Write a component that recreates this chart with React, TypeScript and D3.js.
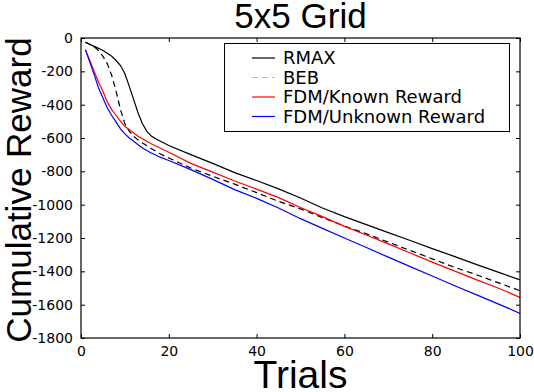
import { useEffect, useRef } from 'react';
import * as d3 from 'd3';

const trials = [1, 2, 3, 4, 5, 6, 7, 8, 9, 10, 11, 12, 13, 14, 15, 16, 17, 18, 20, 25, 30, 35, 40, 45, 50, 55, 60, 65, 70, 75, 80, 85, 90, 95, 100];

const rmax = [-25, -38, -50, -62, -75, -92, -110, -135, -165, -215, -290, -370, -450, -515, -560, -588, -605, -618, -645, -700, -752, -808, -855, -905, -960, -1020, -1072, -1120, -1168, -1215, -1264, -1310, -1358, -1405, -1452];
const beb = [-25, -38, -52, -75, -110, -155, -225, -320, -430, -515, -560, -590, -612, -630, -647, -663, -678, -695, -720, -780, -830, -877, -928, -980, -1025, -1078, -1128, -1175, -1225, -1275, -1325, -1375, -1420, -1468, -1516];
const fdmKnown = [-70, -135, -200, -265, -320, -385, -430, -465, -500, -530, -550, -570, -590, -605, -620, -635, -648, -660, -685, -752, -805, -858, -907, -958, -1017, -1072, -1130, -1182, -1235, -1290, -1345, -1397, -1450, -1500, -1556];
const fdmUnknown = [-70, -145, -220, -300, -360, -420, -465, -505, -545, -575, -600, -620, -640, -660, -675, -690, -702, -715, -735, -790, -848, -910, -962, -1020, -1084, -1142, -1200, -1257, -1315, -1372, -1428, -1485, -1540, -1595, -1652];

const seriesNames = ['RMAX', 'BEB', 'FDM/Known Reward', 'FDM/Unknown Reward'];
const xTicks = [0, 20, 40, 60, 80, 100];
const yTicks = [0, -200, -400, -600, -800, -1000, -1200, -1400, -1600, -1800];

function App() {
  const svgRef = useRef(null);

  useEffect(() => {
    const svg = d3.select(svgRef.current);
    svg.selectAll('*').remove();

    const left = 81, right = 520, top = 38, bottom = 338;
    const x = d3.scaleLinear().domain([0, 100]).range([left, right]);
    const y = d3.scaleLinear().domain([-1800, 0]).range([bottom, top]);

    const series = [
      { name: seriesNames[0], values: rmax, color: '#000', dash: null, legendColor: '#000' },
      { name: seriesNames[1], values: beb, color: '#000', dash: '6,4', legendColor: '#bbbbbb' },
      { name: seriesNames[2], values: fdmKnown, color: '#ff0000', dash: null, legendColor: '#ff0000' },
      { name: seriesNames[3], values: fdmUnknown, color: '#0000ff', dash: null, legendColor: '#0000ff' },
    ];

    svg.append('defs').append('clipPath').attr('id', 'plotclip')
      .append('rect').attr('x', left).attr('y', top).attr('width', right - left).attr('height', bottom - top);

    const line = d3.line<number>()
      .x((_, i) => x(trials[i]))
      .y(d => y(d));

    const lines = svg.append('g').attr('clip-path', 'url(#plotclip)');
    series.forEach(s => {
      lines.append('path')
        .datum(s.values)
        .attr('fill', 'none')
        .attr('stroke', s.color)
        .attr('stroke-width', 1.2)
        .attr('stroke-dasharray', s.dash)
        .attr('d', line);
    });

    const tickFont = 'DejaVu Sans, sans-serif';

    // Axes with inward ticks
    const xb = svg.append('g').attr('transform', `translate(0,${bottom})`)
      .call(d3.axisBottom(x).tickValues(xTicks).tickSizeInner(-4).tickSizeOuter(0).tickPadding(8));
    const xt = svg.append('g').attr('transform', `translate(0,${top})`)
      .call(d3.axisTop(x).tickValues(xTicks).tickSizeInner(-4).tickSizeOuter(0).tickFormat(() => ''));
    const yl = svg.append('g').attr('transform', `translate(${left},0)`)
      .call(d3.axisLeft(y).tickValues(yTicks).tickSizeInner(-4).tickSizeOuter(0).tickPadding(8)
        .tickFormat(d => String(d)));
    const yr = svg.append('g').attr('transform', `translate(${right},0)`)
      .call(d3.axisRight(y).tickValues(yTicks).tickSizeInner(-4).tickSizeOuter(0).tickFormat(() => ''));

    [xb, xt, yl, yr].forEach(g => {
      g.select('.domain').remove();
      g.selectAll('line').attr('stroke', '#000');
      g.selectAll('text').attr('fill', '#000').style('font-family', tickFont).style('font-size', '14px');
    });

    svg.append('rect')
      .attr('x', left).attr('y', top).attr('width', right - left).attr('height', bottom - top)
      .attr('fill', 'none').attr('stroke', '#000').attr('stroke-width', 1.2);

    // Legend
    const lg = svg.append('g');
    lg.append('rect')
      .attr('x', 224.5).attr('y', 43.5).attr('width', 285).attr('height', 88)
      .attr('fill', '#fff').attr('stroke', '#000').attr('stroke-width', 1);
    const rowY = d3.scalePoint().domain(seriesNames).range([58, 116.5]);
    series.forEach(s => {
      const yy = rowY(s.name);
      lg.append('line')
        .attr('x1', 252).attr('x2', 275).attr('y1', yy).attr('y2', yy)
        .attr('stroke', s.legendColor).attr('stroke-width', 1.2)
        .attr('stroke-dasharray', s.dash);
      lg.append('text')
        .attr('x', 283).attr('y', yy).attr('dy', '0.36em')
        .style('font-family', tickFont).style('font-size', '18px')
        .text(s.name);
    });

    const labelFont = 'Liberation Sans, Arial, sans-serif';
    svg.append('text')
      .attr('x', (left + right) / 2).attr('y', 28)
      .attr('text-anchor', 'middle')
      .style('font-family', labelFont).style('font-size', '35px')
      .text('5x5 Grid');

    svg.append('text')
      .attr('x', (left + right) / 2).attr('y', 388)
      .attr('text-anchor', 'middle')
      .style('font-family', labelFont).style('font-size', '39px')
      .text('Trials');

    svg.append('text')
      .attr('transform', `translate(31,${(top + bottom) / 2 + 2}) rotate(-90)`)
      .attr('text-anchor', 'middle')
      .style('font-family', labelFont).style('font-size', '35px')
      .text('Cumulative Reward');
  }, []);

  return (
    <svg ref={svgRef} width={534} height={392}
      style={{ position: 'absolute', left: 0, top: 0, background: '#fff' }} />
  );
}

export default App;
